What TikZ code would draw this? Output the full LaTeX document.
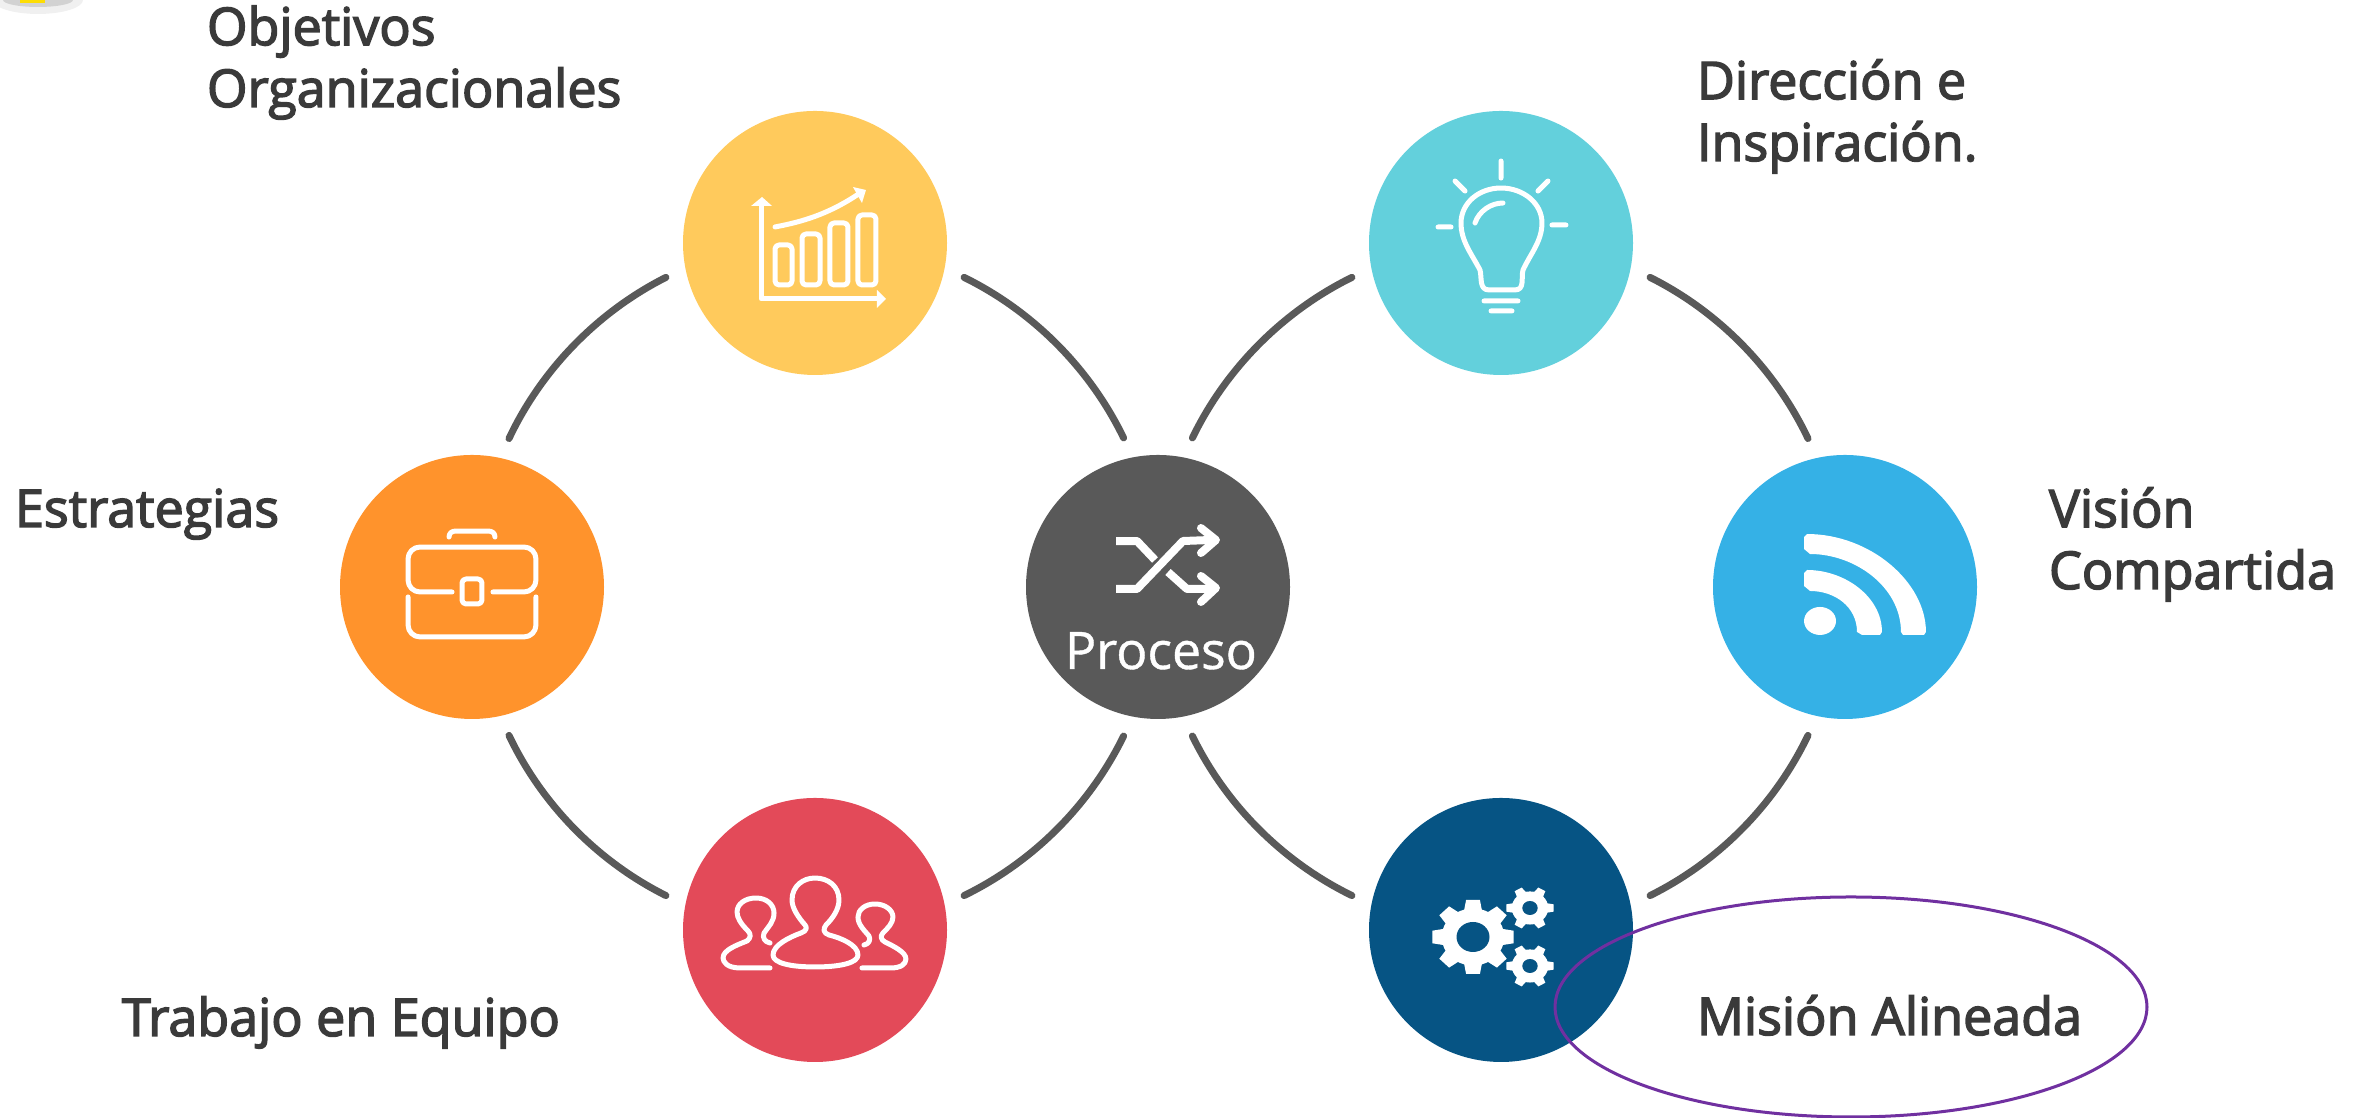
\documentclass[tikz,border=0pt]{standalone}
\usepackage{fontspec}
\setmainfont{Open Sans}[FakeBold=2.8]
\newfontfamily\plainfont{Open Sans}[FakeBold=0.8]
\usetikzlibrary{positioning}
\definecolor{goalcol}{HTML}{FFCA5C}
\definecolor{ideacol}{HTML}{63D0DC}
\definecolor{casecol}{HTML}{FF932C}
\definecolor{hubcol}{HTML}{595959}
\definecolor{feedcol}{HTML}{35B1E6}
\definecolor{teamcol}{HTML}{E34A59}
\definecolor{gearcol}{HTML}{065484}
\definecolor{ringcol}{HTML}{595959}
\definecolor{textcol}{HTML}{3A3A3A}
\definecolor{markcol}{HTML}{7030A0}
\tikzset{
    bubble/.style={circle, minimum size=2.64cm, inner sep=0pt, outer sep=0.21cm},
    ringarc/.style={ringcol, line width=0.07cm, line cap=round, bend left=19, looseness=0.87},
    caption/.style={anchor=base west, inner sep=0pt, outer sep=0pt, text=textcol, align=left,
        font=\fontsize{14.8}{17.6}\selectfont},
    icon/.style={white, line width=0.05cm, line cap=round, line join=round},
    pixels/.style={x=0.01cm, y=-0.01cm}
}
% one toothed wheel: x, y, outer radius, number of teeth, hole radius
\newcommand{\gearwheel}[5]{
    \begin{scope}[shift={(#1,#2)}, xscale=1.1]
        \fill[white] (0,0) circle [radius=#3*0.77];
        \foreach \tooth in {1,...,#4} {
            \fill[white, rotate=\tooth*360/#4] (#3*0.6,-#3*0.24) -- (#3,-#3*0.17) -- (#3,#3*0.17) -- (#3*0.6,#3*0.24) -- cycle;
        }
        \fill[gearcol] (0,0) circle [radius=#5];
    \end{scope}
}
\begin{document}
\begin{tikzpicture}
    \useasboundingbox (0,0) rectangle (23.69,11.18);
    %% corner sliver
    \begin{scope}
        \clip (0,0) rectangle (23.69,11.18);
        \fill[gray!12] (0.38,11.18) ellipse [x radius=0.45, y radius=0.14];
        \fill[gray!35] (0.38,11.18) ellipse [x radius=0.35, y radius=0.07];
        \fill[yellow!80!orange] (0.2,11.15) rectangle (0.45,11.18);
    \end{scope}

    %% circles
    \node[bubble, fill=casecol] (strategy) at (4.72,5.31) {};
    \node[bubble, fill=goalcol] (goals) at (8.15,8.75) {};
    \node[bubble, fill=teamcol] (team) at (8.15,1.88) {};
    \node[bubble, fill=hubcol] (process) at (11.58,5.31) {};
    \node[bubble, fill=ideacol] (vision) at (15.01,8.75) {};
    \node[bubble, fill=gearcol] (mission) at (15.01,1.88) {};
    \node[bubble, fill=feedcol] (shared) at (18.45,5.31) {};

    %% left ring
    \draw[ringarc] (strategy.76) to (goals.193);
    \draw[ringarc] (goals.347) to (process.103);
    \draw[ringarc] (process.257) to (team.13);
    \draw[ringarc] (team.167) to (strategy.284);
    %% right ring
    \draw[ringarc] (process.77) to (vision.193);
    \draw[ringarc] (vision.347) to (shared.104);
    \draw[ringarc] (shared.256) to (mission.13);
    \draw[ringarc] (mission.167) to (process.283);

    %% chart icon
    \begin{scope}[shift={(goals.center)}, pixels]
        \draw[icon] (-54,-38) -- (-54,56) -- (62,56);
        \fill[white] (-64,-37) -- (-53,-46) -- (-43,-37) -- cycle
                     (62,47) -- (71,56) -- (62,65) -- cycle
                     (51,-53) -- (38,-56) -- (47,-40) -- cycle;
        \draw[icon, rounded corners=0.04cm] (-40,2) rectangle (-23,42)
                                            (-13,-9) rectangle (5,42)
                                            (15,-20) rectangle (33,42)
                                            (43,-28) rectangle (61,42);
        \draw[icon] (-40,-16) .. controls (-20,-20) and (10,-26) .. (45,-50);
    \end{scope}

    %% bulb icon
    \begin{scope}[shift={(vision.center)}, pixels]
        \draw[icon] (0,-82) -- (0,-65)
                    (-46,-62) -- (-36,-52)
                    (47,-62) -- (37,-52)
                    (-63,-16) -- (-50,-16)
                    (51,-18) -- (65,-18)
                    (-17,58) -- (17,58)
                    (-10,68) -- (11,68);
        \draw[icon] (-21,27) .. controls (-30,10) and (-40,-2) .. (-40,-20)
                    .. controls (-40,-40) and (-22,-55) .. (0,-55)
                    .. controls (22,-55) and (41,-40) .. (41,-20)
                    .. controls (41,-2) and (30,10) .. (22,27)
                    .. controls (20,35) and (24,47) .. (14,47)
                    -- (-12,47)
                    .. controls (-22,47) and (-19,35) .. (-21,27);
        \draw[icon] (-26,-20) .. controls (-22,-32) and (-10,-40) .. (2,-40);
    \end{scope}

    %% briefcase icon
    \begin{scope}[shift={(strategy.center)}, pixels]
        \draw[icon] (-23,-50) .. controls (-23,-54) and (-20,-56) .. (-16,-56)
                    -- (16,-56) .. controls (20,-56) and (23,-54) .. (23,-50);
        \draw[icon, rounded corners=0.12cm] (-20,5) -- (-64,5) -- (-64,-40) -- (64,-40) -- (64,5) -- (21,5);
        \draw[icon, rounded corners=0.12cm] (-64,10) -- (-64,50) -- (64,50) -- (64,10);
        \draw[icon, rounded corners=0.04cm] (-10,-8) rectangle (10,17);
    \end{scope}

    %% shuffle icon
    \begin{scope}[shift={(process.center)}, pixels]
        \draw[icon, line width=0.08cm, line cap=butt] (-42,-46) -- (-21,-46) -- (-3,-27)
                    (10,-15) -- (29,2) -- (52,2)
                    (-42,2) -- (-21,2) -- (25,-46) -- (52,-47);
        \draw[icon, line width=0.08cm] (43,-59) -- (58,-47) -- (43,-34)
                    (43,-11) -- (58,1) -- (43,15);
    \end{scope}
    \node[text=white, font=\plainfont\fontsize{14.7}{17.6}\selectfont, anchor=base, inner sep=0pt] (processname) at (11.61,4.49) {Proceso};

    %% feed icon
    \begin{scope}[shift={(shared.center)}, pixels]
        \fill[white] (-25,34) ellipse [x radius=16, y radius=14];
        \fill[white] (-41,-14) -- (-38,-17) .. controls (0,-17) and (37,10) .. (37,45)
                     -- (35,48) -- (17,48) -- (12,45)
                     .. controls (12,20) and (-10,4) .. (-35,4)
                     -- (-41,-1) -- cycle;
        \fill[white] (-41,-50) -- (-38,-53) .. controls (25,-53) and (81,-5) .. (81,45)
                     -- (79,48) -- (58,48) -- (56,45)
                     .. controls (56,0) and (10,-33) .. (-35,-33)
                     -- (-41,-38) -- cycle;
    \end{scope}

    %% people icon
    \begin{scope}[shift={(team.center)}, pixels]
        \draw[icon] (0,37) .. controls (-25,37) and (-42,33) .. (-42,25)
                    .. controls (-42,15) and (-25,7) .. (-14,3)
                    .. controls (-8,1) and (-8,-3) .. (-10,-5)
                    .. controls (-17,-13) and (-23,-22) .. (-23,-30)
                    .. controls (-23,-44) and (-12,-52) .. (0,-52)
                    .. controls (13,-52) and (24,-44) .. (24,-30)
                    .. controls (24,-20) and (17,-11) .. (11,-5)
                    .. controls (8,-1) and (8,3) .. (14,5)
                    .. controls (26,8) and (43,15) .. (43,25)
                    .. controls (43,33) and (25,37) .. (0,37);
        \draw[icon] (-45,38) -- (-75,38) .. controls (-88,38) and (-92,32) .. (-92,28)
                    .. controls (-92,20) and (-78,15) .. (-68,11)
                    .. controls (-64,8) and (-64,4) .. (-67,1)
                    .. controls (-74,-6) and (-78,-12) .. (-78,-18)
                    .. controls (-78,-26) and (-70,-32) .. (-59,-32)
                    .. controls (-48,-32) and (-41,-25) .. (-41,-17)
                    .. controls (-41,-8) and (-47,-3) .. (-51,3)
                    .. controls (-53,8) and (-50,12) .. (-45,13);
        \draw[icon] (47,38) -- (76,38) .. controls (86,38) and (91,34) .. (91,29)
                    .. controls (91,22) and (78,16) .. (70,12)
                    .. controls (66,10) and (65,6) .. (68,3)
                    .. controls (73,-2) and (78,-7) .. (78,-13)
                    .. controls (78,-20) and (70,-26) .. (60,-26)
                    .. controls (50,-26) and (43,-20) .. (43,-13)
                    .. controls (43,-5) and (50,1) .. (54,6)
                    .. controls (56,10) and (54,14) .. (49,15);
    \end{scope}

    %% gears icon
    \begin{scope}[shift={(mission.center)}]
        \gearwheel{-0.28}{-0.07}{0.37}{8}{0.15}
        \gearwheel{0.29}{0.22}{0.215}{6}{0.07}
        \gearwheel{0.29}{-0.36}{0.215}{6}{0.07}
    \end{scope}

    %% captions
    \node[caption] (goalstext) at (2.07,10.11) {Objetivos\\Organizacionales};
    \node[caption] (visiontext) at (16.97,9.57) {Dirección e\\Inspiración.};
    \node[caption] (strategytext) at (0.15,5.91) {Estrategias};
    \node[caption] (sharedtext) at (20.49,5.29) {Visión\\Compartida};
    \node[caption] (teamtext) at (1.22,0.82) {Trabajo en Equipo};
    \node[caption] (missiontext) at (16.97,0.83) {Misión Alineada};

    %% purple mark
    \draw[markcol, line width=0.03cm] (18.51,1.11) ellipse [x radius=2.96, y radius=1.10];
\end{tikzpicture}
\end{document}
